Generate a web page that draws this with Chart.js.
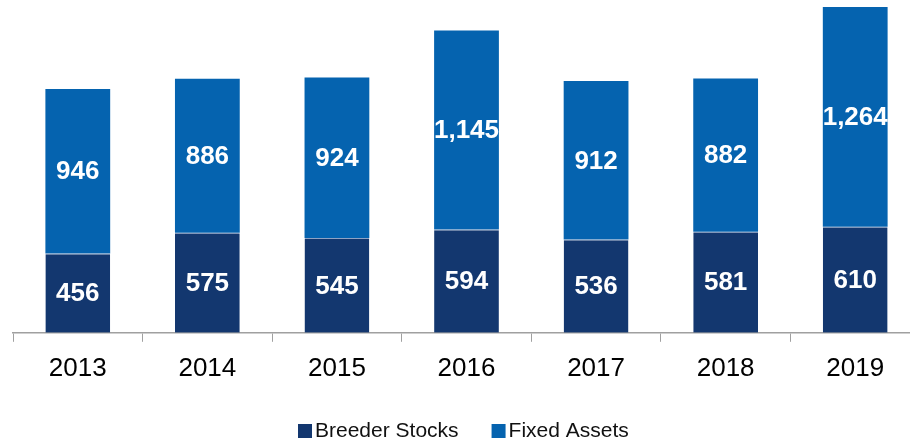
<!DOCTYPE html>
<html>
<head>
<meta charset="utf-8">
<script src="https://cdn.jsdelivr.net/npm/chart.js@4/dist/chart.umd.min.js"></script>
<style>
  html, body { margin: 0; padding: 0; background: #fff; overflow: hidden; }
  #wrap { width: 920px; height: 442px; }
</style>
</head>
<body>
<div id="wrap"><canvas id="chart" width="920" height="442"></canvas></div>
<script>
const years = ['2013', '2014', '2015', '2016', '2017', '2018', '2019'];
const breederStocks = [456, 575, 545, 594, 536, 581, 610];
const fixedAssets = [946, 886, 924, 1145, 912, 882, 1264];

const navy = '#13376F';
const blue = '#0563AF';

// white numbers in the middle of each segment
const segmentLabels = {
  id: 'segmentLabels',
  afterDatasetsDraw(chart) {
    const ctx = chart.ctx;
    ctx.save();
    ctx.fillStyle = '#fff';
    ctx.font = 'bold 26px "Liberation Sans", Arial, sans-serif';
    ctx.textAlign = 'center';
    ctx.textBaseline = 'middle';
    chart.data.datasets.forEach((ds, i) => {
      chart.getDatasetMeta(i).data.forEach((bar, j) => {
        const mid = (bar.y + bar.base) / 2;
        ctx.fillText(ds.data[j].toLocaleString('en-US'), bar.x, mid + 1);
      });
    });
    ctx.restore();
  }
};

// legend drawn by hand so it sits where the original one does
const bottomLegend = {
  id: 'bottomLegend',
  afterDraw(chart) {
    const ctx = chart.ctx;
    ctx.save();
    ctx.font = '21px "Liberation Sans", Arial, sans-serif';
    ctx.textBaseline = 'middle';
    let x = 298;
    const y = 431;
    chart.data.datasets.forEach((ds) => {
      ctx.fillStyle = ds.backgroundColor;
      ctx.fillRect(x, y - 7, 14, 14);
      ctx.fillStyle = '#111';
      ctx.fillText(ds.label, x + 17, y);
      x += 17 + ctx.measureText(ds.label).width + 33;
    });
    ctx.restore();
  }
};

new Chart(document.getElementById('chart'), {
  type: 'bar',
  data: {
    labels: years,
    datasets: [
      {
        label: 'Breeder Stocks',
        data: breederStocks,
        backgroundColor: navy,
        borderColor: '#8fa3c4',
        borderWidth: { top: 1, left: 0, right: 0, bottom: 0 },
        barPercentage: 0.5,
        categoryPercentage: 1
      },
      {
        label: 'Fixed Assets',
        data: fixedAssets,
        backgroundColor: blue,
        barPercentage: 0.5,
        categoryPercentage: 1
      }
    ]
  },
  options: {
    responsive: false,
    animation: false,
    layout: { padding: { left: 13, right: 0, top: 7, bottom: 47 } },
    plugins: {
      legend: { display: false },
      tooltip: { enabled: false }
    },
    scales: {
      x: {
        stacked: true,
        border: { color: '#a0a0a0', width: 1.5 },
        grid: {
          offset: true,
          drawOnChartArea: false,
          drawTicks: true,
          tickLength: 9,
          color: '#a0a0a0'
        },
        ticks: {
          color: '#000',
          padding: 11,
          font: { size: 26, family: '"Liberation Sans", Arial, sans-serif' }
        }
      },
      y: {
        stacked: true,
        display: false,
        min: 0,
        max: 1874
      }
    }
  },
  plugins: [segmentLabels, bottomLegend]
});
</script>
</body>
</html>
